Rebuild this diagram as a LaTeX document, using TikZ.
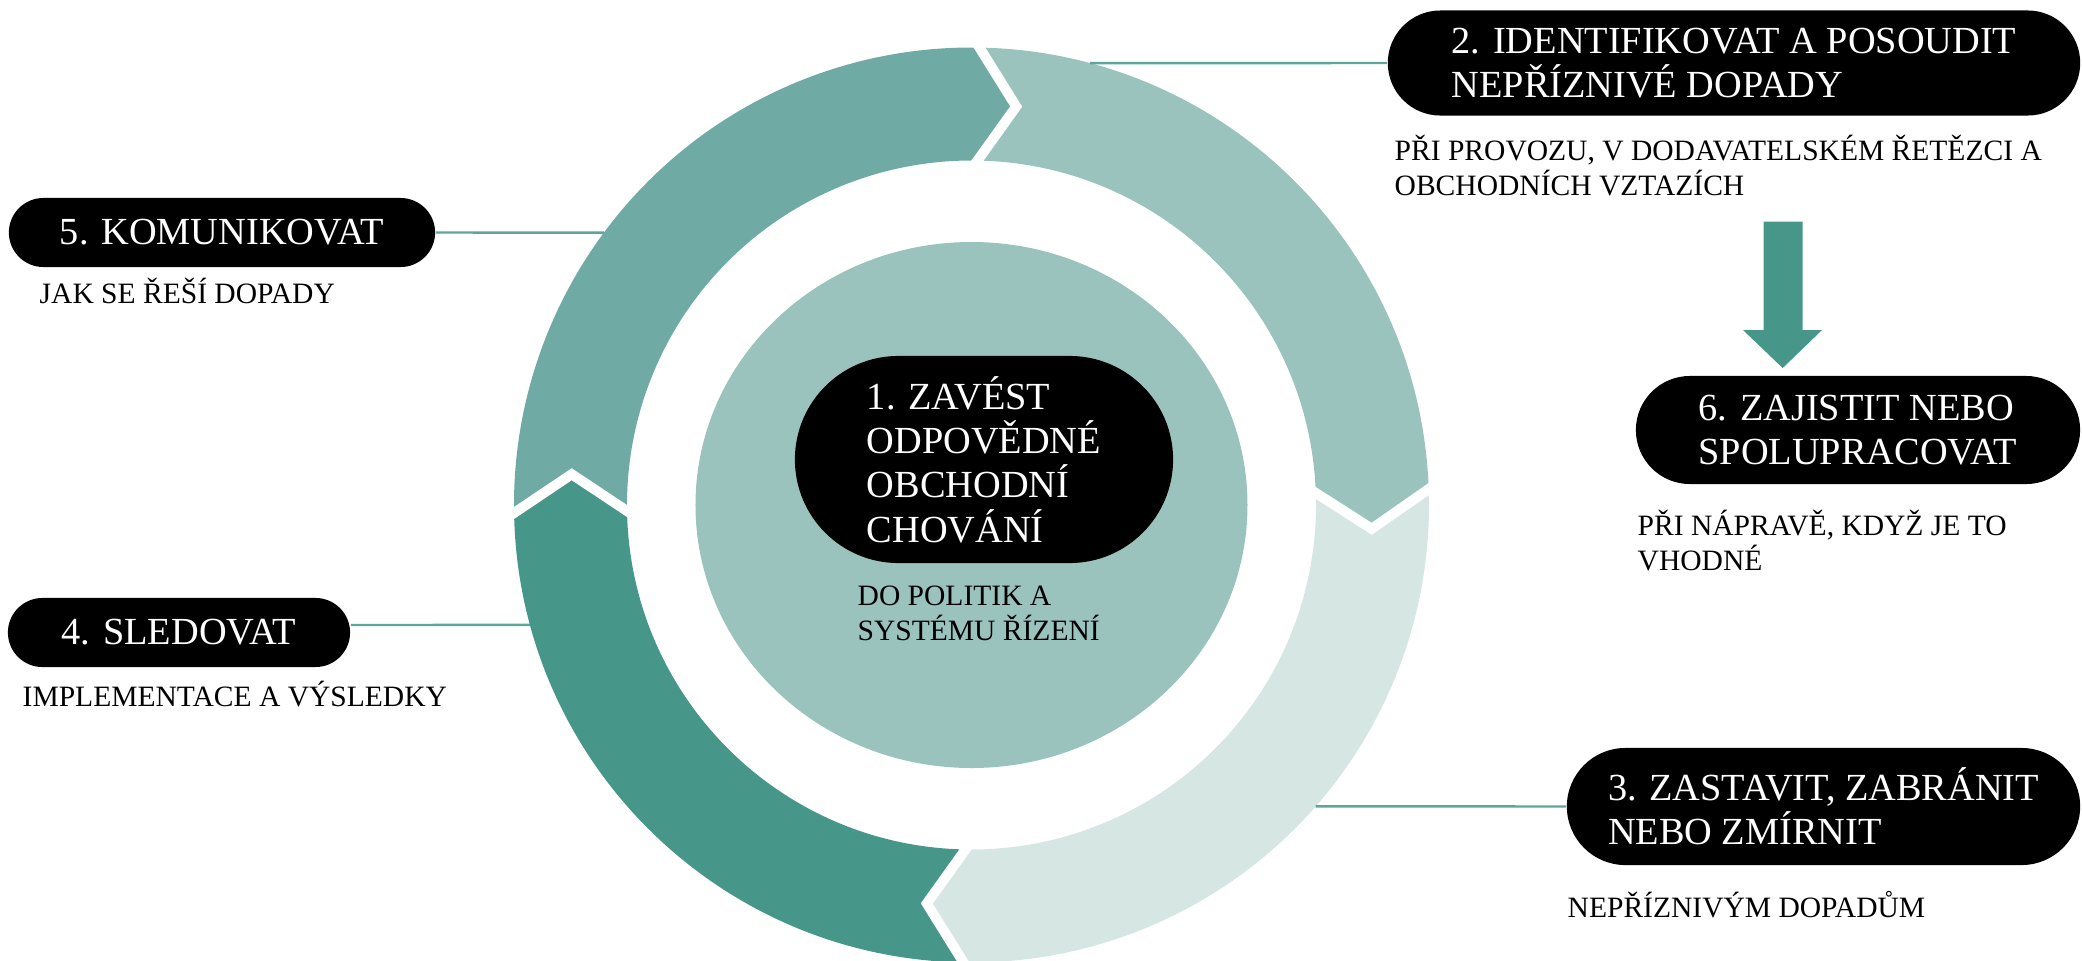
\documentclass[tikz,border=0pt]{standalone}
\usepackage{fontspec}
\setmainfont{Liberation Serif}
\usetikzlibrary{calc}
\usetikzlibrary{shapes.misc}
\usetikzlibrary{positioning}

\definecolor{segA}{HTML}{6FABA4}
\definecolor{segB}{HTML}{9BC3BE}
\definecolor{segC}{HTML}{D5E6E3}
\definecolor{segD}{HTML}{47968A}
\definecolor{linkc}{HTML}{5EA69C}

\tikzset{
  pill/.style={rounded rectangle, fill=black, text=white, align=left, inner sep=0pt,
    font=\fontsize{10.9pt}{12.6pt}\selectfont},
  subtext/.style={anchor=base west, align=left, inner sep=0pt,
    font=\fontsize{8.4pt}{9.9pt}\selectfont},
  link/.style={draw=linkc, line width=0.7pt},
}

\begin{document}
\begin{tikzpicture}[x=0.01cm, y=0.01cm]
  \useasboundingbox (-971.5,-455) rectangle (1110.5,505);
  \def\Rout{457.5}
  \def\Rin{344.5}
  \def\Rmid{401}
  \def\tipoff{5.4}

  % Ring segments (clockwise arrows)
  \foreach \s/\e/\col in {181/89/segA, 89/2/segB, 2/-91/segC, -91/-179/segD}
    \fill[\col] (\s:\Rout) arc[start angle=\s, end angle=\e, radius=\Rout]
      -- ({\e-\tipoff}:\Rmid) -- (\e:\Rin)
      arc[start angle=\e, end angle=\s, radius=\Rin]
      -- ({\s-\tipoff}:\Rmid) -- cycle;

  % White gaps between segments
  \foreach \b in {181,89,2,-91}
    \draw[white, line width=1mm]
      ($(\b:\Rout)!-0.15!({\b-\tipoff}:\Rmid)$) -- ({\b-\tipoff}:\Rmid)
      -- ($(\b:\Rin)!-0.15!({\b-\tipoff}:\Rmid)$);

  % Inner disk
  \fill[segB] (0,0) ellipse[x radius=276, y radius=263];

  % Points on the ring
  \coordinate (e2) at (75:\Rout);
  \coordinate (e3) at (-41.2:\Rout);
  \coordinate (e4) at (195.2:\Rout);
  \coordinate (e5) at (143.45:\Rout);

  % Steps
  \node[pill, minimum width=3.78cm, minimum height=2.07cm] (p1) at (12.5,45.5)
    {1. ZAVÉST\\ODPOVĚDNÉ\\OBCHODNÍ\\CHOVÁNÍ};
  \node[pill, minimum width=6.92cm, minimum height=1.05cm] (p2) at (762.5,442)
    {2. IDENTIFIKOVAT A POSOUDIT\\NEPŘÍZNIVÉ DOPADY};
  \node[pill, minimum width=5.13cm, minimum height=1.17cm] (p3) at (852,-301.5)
    {3. ZASTAVIT, ZABRÁNIT\\NEBO ZMÍRNIT};
  \node[pill, minimum width=3.42cm, minimum height=0.69cm] (p4) at (-792.5,-127.5)
    {4. SLEDOVAT};
  \node[pill, minimum width=4.26cm, minimum height=0.69cm] (p5) at (-749.5,272.5)
    {5. KOMUNIKOVAT};
  \node[pill, minimum width=4.44cm, minimum height=1.08cm] (p6) at (886.5,75)
    {6. ZAJISTIT NEBO\\SPOLUPRACOVAT};

  % Descriptions (base = last line)
  \node[subtext] (s1) at (-114.5,-135) {DO POLITIK A\\SYSTÉMU ŘÍZENÍ};
  \node[subtext] (s2) at (422.5,310) {PŘI PROVOZU, V DODAVATELSKÉM ŘETĚZCI A\\OBCHODNÍCH VZTAZÍCH};
  \node[subtext] (s3) at (595.5,-412) {NEPŘÍZNIVÝM DOPADŮM};
  \node[subtext] (s4) at (-949.5,-201) {IMPLEMENTACE A VÝSLEDKY};
  \node[subtext] (s5) at (-932.5,202) {JAK SE ŘEŠÍ DOPADY};
  \node[subtext] (s6) at (665.5,-65) {PŘI NÁPRAVĚ, KDYŽ JE TO\\VHODNÉ};

  % Connectors to the ring
  \draw[link] (p2.west) -- (e2);
  \draw[link] (p3.west) -- (e3);
  \draw[link] ([yshift=0.75mm]p4.east) -- (e4);
  \draw[link] (p5.east) -- (e5);

  % Block arrow down to step 6
  \fill[segD] (792,283.3) -- (831,283.3) -- (831,175) -- (850.5,175)
    -- (811.2,137) -- (771.5,175) -- (792,175) -- cycle;
\end{tikzpicture}
\end{document}
